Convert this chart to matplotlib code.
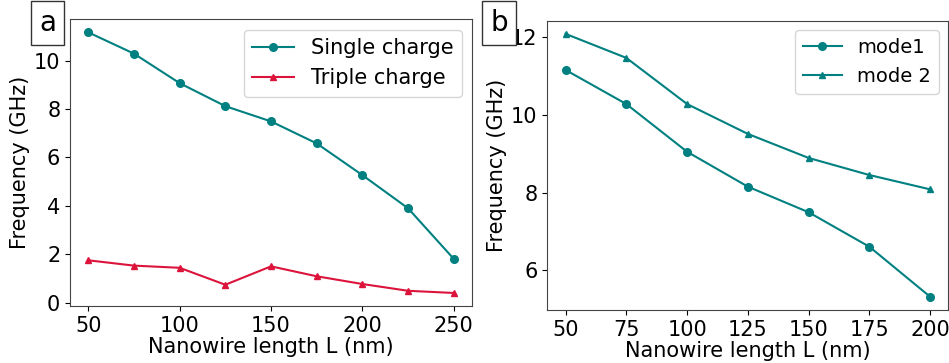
import matplotlib
matplotlib.use("Agg")
import matplotlib.pyplot as plt

length_a = [50, 75, 100, 125, 150, 175, 200, 225, 250]
single_charge = [11.17, 10.29, 9.07, 8.12, 7.49, 6.58, 5.27, 3.90, 1.81]
triple_charge = [1.75, 1.53, 1.44, 0.74, 1.50, 1.09, 0.77, 0.49, 0.40]

length_b = [50, 75, 100, 125, 150, 175, 200]
mode1 = [11.16, 10.28, 9.05, 8.15, 7.49, 6.60, 5.31]
mode2 = [12.09, 11.47, 10.28, 9.51, 8.89, 8.45, 8.08]

teal = "#008080"
crimson = "#DC143C"
fs = 15

W, H = 949, 363
fig = plt.figure(figsize=(W / 100, H / 100), dpi=100)

def rect(l, t, r, b):
    return [l / W, (H - b) / H, (r - l) / W, (b - t) / H]

ax1 = fig.add_axes(rect(70, 19.3, 472, 306))
ax1.plot(length_a, single_charge, color=teal, marker="o", markersize=5.5, label="Single charge")
ax1.plot(length_a, triple_charge, color=crimson, marker="^", markersize=5, label="Triple charge")
ax1.set_xticks([50, 100, 150, 200, 250])
ax1.set_yticks([0, 2, 4, 6, 8, 10])
ax1.set_xlabel("Nanowire length L (nm)", fontsize=fs, labelpad=1)
ax1.set_ylabel("Frequency (GHz)", fontsize=fs, labelpad=3)
ax1.tick_params(labelsize=fs)
ax1.legend(fontsize=fs, loc="upper right")

ax2 = fig.add_axes(rect(547.3, 20.7, 948.5, 310))
ax2.plot(length_b, mode1, color=teal, marker="o", markersize=5.5, label="mode1")
ax2.plot(length_b, mode2, color=teal, marker="^", markersize=5, label="mode 2")
ax2.set_xticks([50, 75, 100, 125, 150, 175, 200])
ax2.set_yticks([6, 8, 10, 12])
ax2.set_xlabel("Nanowire length L (nm)", fontsize=fs, labelpad=1)
ax2.set_ylabel("Frequency (GHz)", fontsize=fs, labelpad=3)
ax2.tick_params(labelsize=fs)
ax2.legend(fontsize=14, loc="upper right")

for ax in (ax1, ax2):
    for s in ax.spines.values():
        s.set_color("#444444")

box = dict(boxstyle="square,pad=0.3", facecolor="white", edgecolor="#333333", linewidth=1)
fig.text(47.5 / W, 1 - 23 / H, "a", fontsize=20, ha="center", va="center", bbox=box)
fig.text(499 / W, 1 - 23 / H, "b", fontsize=20, ha="center", va="center", bbox=box)

fig.savefig("out.png", dpi=100)
